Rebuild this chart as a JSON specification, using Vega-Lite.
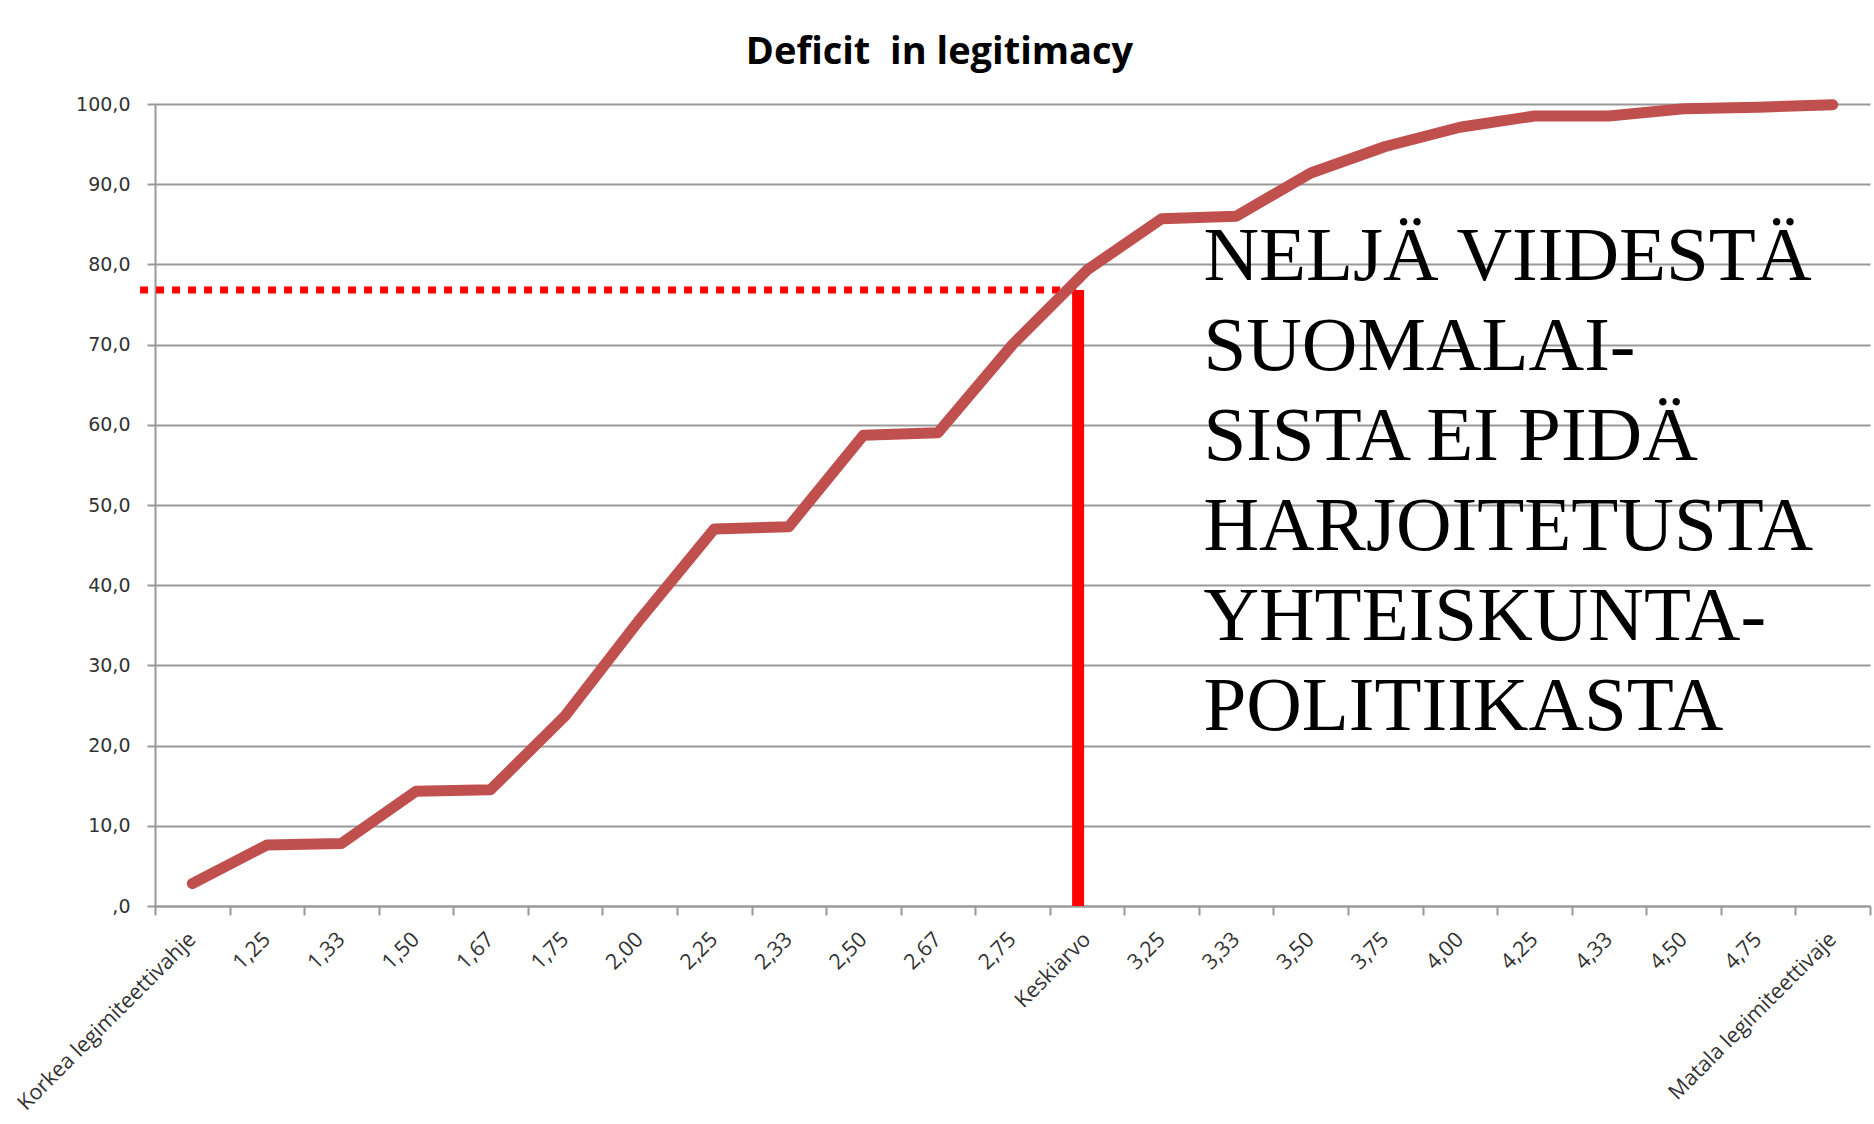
{
  "$schema": "https://vega.github.io/schema/vega-lite/v6.json",
  "width": 1715,
  "height": 802,
  "autosize": {"type": "none"},
  "padding": {"left": 155, "top": 104, "right": 4, "bottom": 218},
  "background": "white",
  "title": {
    "text": "Deficit\u00a0 in legitimacy",
    "font": "Open Sans",
    "fontSize": 38,
    "fontWeight": "bold",
    "color": "#000000",
    "anchor": "middle",
    "frame": "group",
    "dx": -73,
    "offset": 23
  },
  "datasets": {
    "series": [
      {"category": "Korkea legimiteettivahje", "value": 2.8},
      {"category": "1,25", "value": 7.6},
      {"category": "1,33", "value": 7.8},
      {"category": "1,50", "value": 14.3},
      {"category": "1,67", "value": 14.5},
      {"category": "1,75", "value": 23.7},
      {"category": "2,00", "value": 35.7},
      {"category": "2,25", "value": 47.0},
      {"category": "2,33", "value": 47.3},
      {"category": "2,50", "value": 58.7},
      {"category": "2,67", "value": 59.0},
      {"category": "2,75", "value": 70.0},
      {"category": "Keskiarvo", "value": 79.3},
      {"category": "3,25", "value": 85.7},
      {"category": "3,33", "value": 86.0},
      {"category": "3,50", "value": 91.4},
      {"category": "3,75", "value": 94.7},
      {"category": "4,00", "value": 97.1},
      {"category": "4,25", "value": 98.5},
      {"category": "4,33", "value": 98.5},
      {"category": "4,50", "value": 99.4},
      {"category": "4,75", "value": 99.6},
      {"category": "Matala legimiteettivaje", "value": 99.9}
    ],
    "dotted": [{"x": -0.2, "x2": 12.38, "value": 76.8}],
    "vertical": [{"x": 12.38, "value": 0, "value2": 76.8}],
    "note": [{"x": 14.06, "value": 78.0, "label": "NELJÄ VIIDESTÄ\nSUOMALAI-\nSISTA EI PIDÄ\nHARJOITETUSTA\nYHTEISKUNTA-\nPOLITIIKASTA"}]
  },
  "layer": [
    {
      "data": {"name": "dotted"},
      "mark": {"type": "rule", "color": "#FF0000", "strokeWidth": 7, "strokeDash": [8, 8], "strokeCap": "butt"},
      "encoding": {
        "x": {"field": "x", "type": "quantitative", "scale": {"domain": [0, 23], "nice": false, "zero": false}, "axis": null},
        "x2": {"field": "x2"},
        "y": {
          "field": "value",
          "type": "quantitative",
          "scale": {"domain": [0, 100], "nice": false},
          "axis": {
            "title": null,
            "values": [0, 10, 20, 30, 40, 50, 60, 70, 80, 90, 100],
            "labelExpr": "datum.value == 0 ? ',0' : replace(format(datum.value, '.1f'), '.', ',')",
            "labelFont": "DejaVu Sans",
            "labelFontSize": 19,
            "labelColor": "#333333",
            "labelPadding": 17,
            "tickSize": 8,
            "tickColor": "#999999",
            "tickWidth": 2,
            "domainColor": "#999999",
            "domainWidth": 2,
            "grid": true,
            "gridColor": "#999999",
            "gridWidth": 2
          }
        }
      }
    },
    {
      "data": {"name": "vertical"},
      "mark": {"type": "rule", "color": "#FF0000", "strokeWidth": 12, "strokeCap": "butt"},
      "encoding": {
        "x": {"field": "x", "type": "quantitative", "scale": {"domain": [0, 23], "nice": false, "zero": false}, "axis": null},
        "y": {"field": "value", "type": "quantitative", "scale": {"domain": [0, 100], "nice": false}},
        "y2": {"field": "value2"}
      }
    },
    {
      "data": {"name": "series"},
      "mark": {"type": "line", "color": "#C0504D", "strokeWidth": 11, "strokeCap": "round", "strokeJoin": "round"},
      "encoding": {
        "x": {
          "field": "category",
          "type": "nominal",
          "sort": null,
          "bandPosition": 0.5,
          "scale": {"type": "band", "paddingInner": 0, "paddingOuter": 0},
          "axis": {
            "title": null,
            "labelAngle": -45,
            "labelAlign": "right",
            "labelBaseline": "middle",
            "labelFont": "Open Sans",
            "labelFontSize": 21.5,
            "labelColor": "#333333",
            "labelPadding": 21,
            "labelLimit": 500,
            "labelOverlap": false,
            "tickBand": "extent",
            "tickSize": 9,
            "tickColor": "#999999",
            "tickWidth": 2,
            "domainColor": "#999999",
            "domainWidth": 2,
            "grid": false
          }
        },
        "y": {"field": "value", "type": "quantitative", "scale": {"domain": [0, 100], "nice": false}}
      }
    },
    {
      "data": {"name": "note"},
      "mark": {"type": "text", "font": "Liberation Serif", "fontSize": 77, "align": "left", "baseline": "alphabetic", "lineHeight": 90, "lineBreak": "\n", "color": "#000000"},
      "encoding": {
        "x": {"field": "x", "type": "quantitative", "scale": {"domain": [0, 23], "nice": false, "zero": false}, "axis": null},
        "y": {"field": "value", "type": "quantitative", "scale": {"domain": [0, 100], "nice": false}},
        "text": {"field": "label"}
      }
    }
  ],
  "resolve": {"scale": {"x": "independent"}},
  "config": {"view": {"stroke": null}}
}
